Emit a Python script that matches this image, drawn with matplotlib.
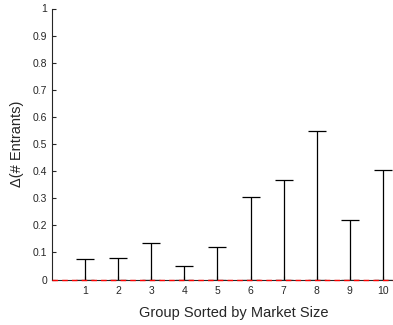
import matplotlib.pyplot as plt
import numpy as np

plt.rcParams['font.family'] = ['Liberation Sans', 'DejaVu Sans']

# Dados
grupos = [1, 2, 3, 4, 5, 6, 7, 8, 9, 10]
centro = [0, 0, 0, 0, 0, 0, 0, 0, 0, 0]
erro_inf = [0, 0, 0, 0, 0, 0, 0, 0, 0, 0]
erro_sup = [0.077, 0.078, 0.136, 0.050, 0.120, 0.303, 0.366, 0.548, 0.218, 0.405]
y_ticks = [0, 0.1, 0.2, 0.3, 0.4, 0.5, 0.6, 0.7, 0.8, 0.9, 1]
y_labels = ['0', '0.1', '0.2', '0.3', '0.4', '0.5', '0.6', '0.7', '0.8', '0.9', '1']

fig = plt.figure(figsize=(3.93, 3.25), dpi=100)
ax = fig.add_axes([52 / 393, 1 - 279.5 / 325, 364 / 393, 271 / 325])

ax.errorbar(grupos, centro, yerr=[erro_inf, erro_sup], fmt='none',
            ecolor='black', elinewidth=0.9, capsize=6.5, capthick=0.9)
ax.axhline(0, color='red', linestyle='--', linewidth=1.0, dashes=(4, 3),
           zorder=5, clip_on=False)

ax.set_xlim(0, 11)
ax.set_ylim(0, 1)
ax.set_xticks(grupos)
ax.set_yticks(y_ticks)
ax.set_yticklabels(y_labels)

cinza = '#262626'
for lado in ['top', 'right']:
    ax.spines[lado].set_visible(False)
for lado in ['left', 'bottom']:
    ax.spines[lado].set_color(cinza)
    ax.spines[lado].set_linewidth(0.8)
ax.tick_params(direction='in', length=3, width=0.8, colors=cinza,
               labelsize=7.5, labelcolor=cinza)
ax.tick_params(axis='x', pad=5)

ax.set_xlabel('Group Sorted by Market Size', fontsize=10.5, color=cinza, labelpad=7)
ax.set_ylabel('Δ(# Entrants)', fontsize=10.5, color=cinza, labelpad=6)

plt.savefig('out.png', dpi=100)
